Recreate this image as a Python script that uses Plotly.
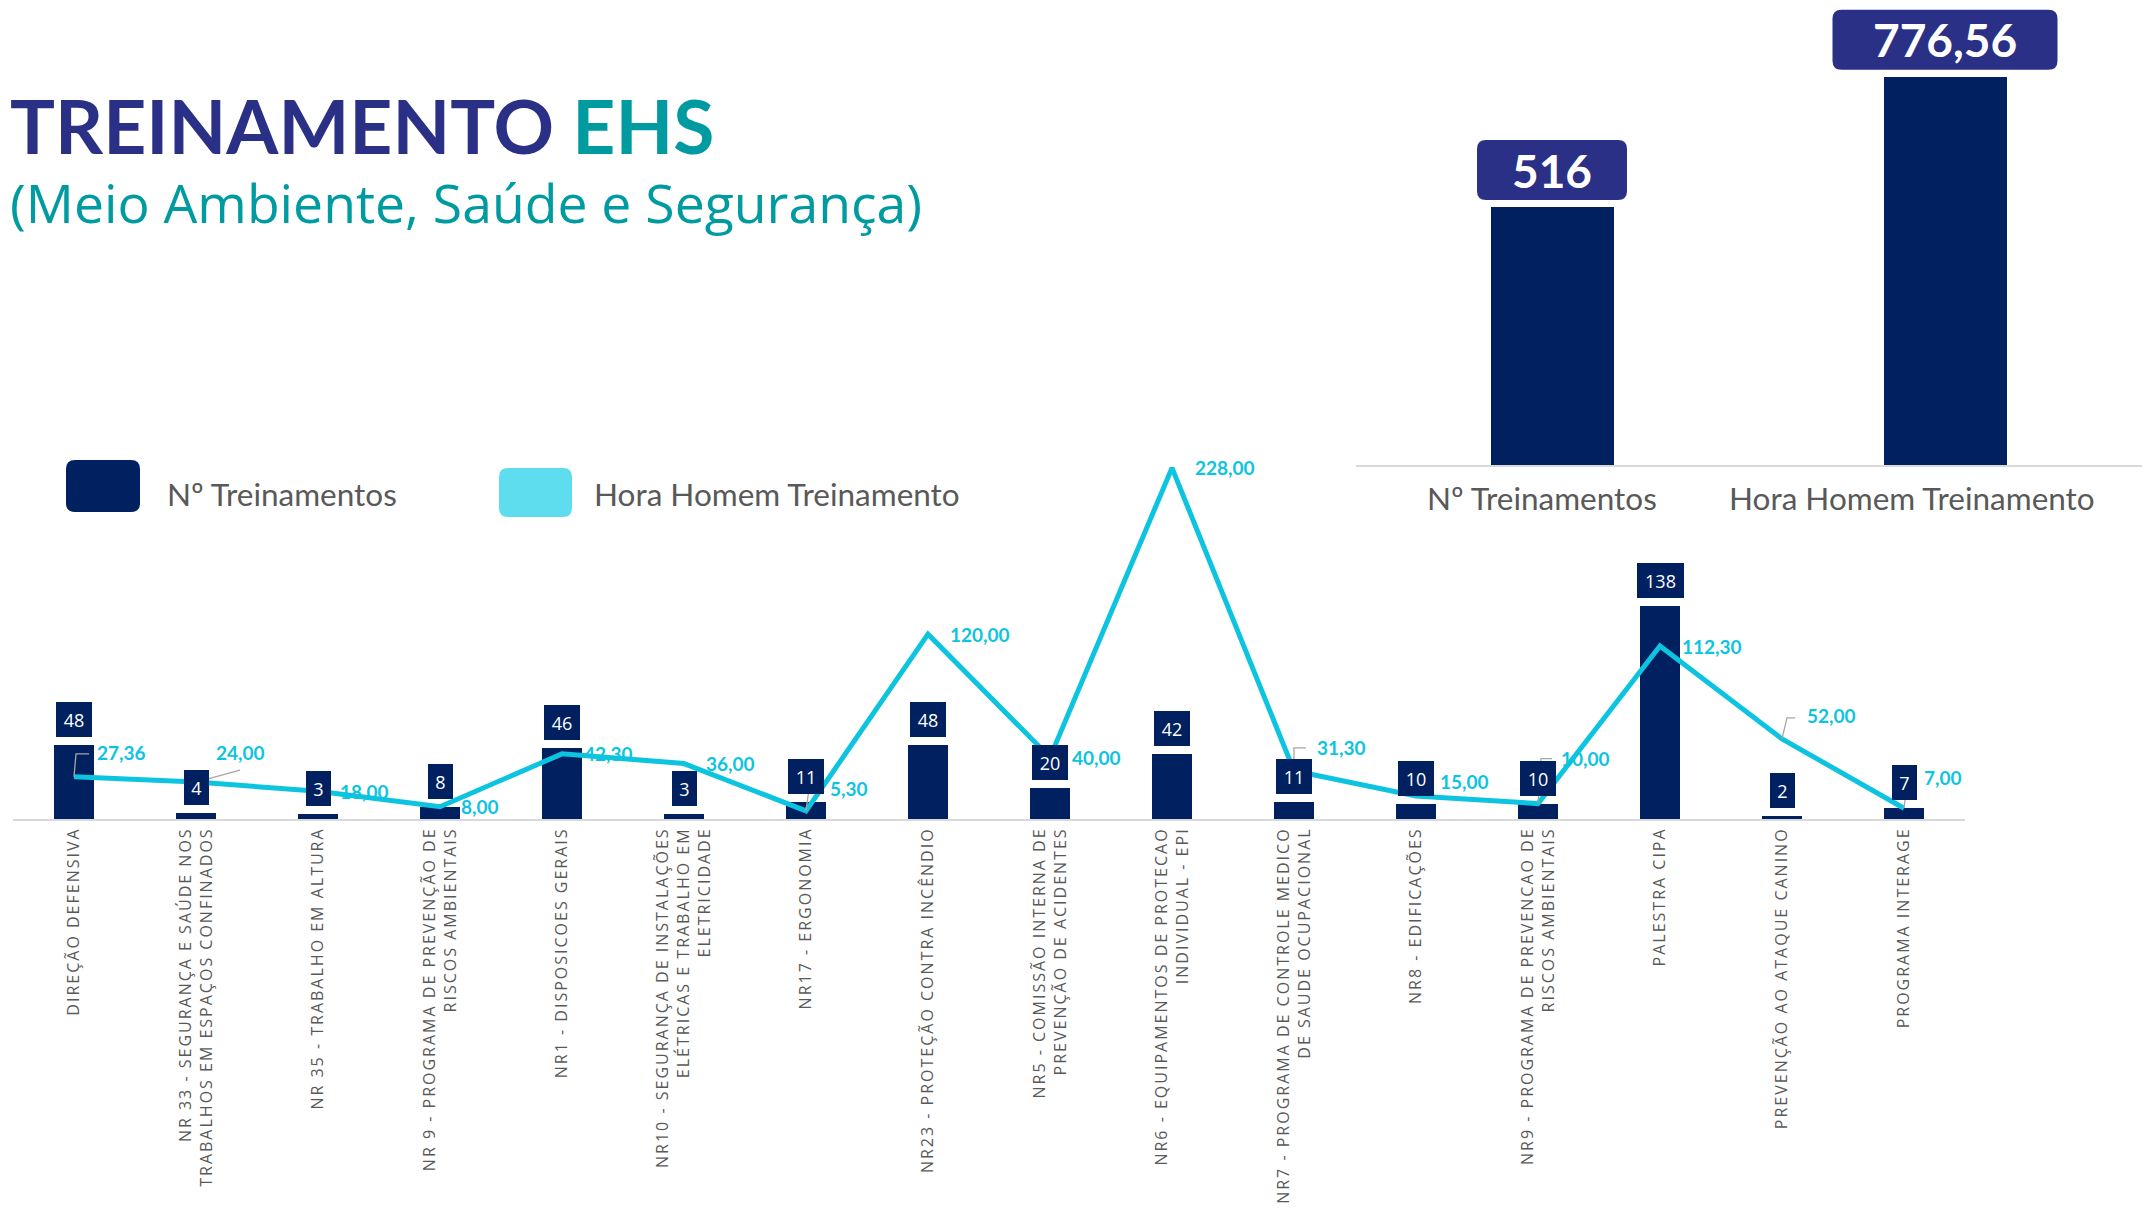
import plotly.graph_objects as go

W, H = 2144, 1215

categories = [
    "DIREÇÃO DEFENSIVA",
    "NR 33 - SEGURANÇA E SAÚDE NOS<br>TRABALHOS EM ESPAÇOS CONFINADOS",
    "NR 35 - TRABALHO EM ALTURA",
    "NR 9 - PROGRAMA DE PREVENÇÃO DE<br>RISCOS AMBIENTAIS",
    "NR1 - DISPOSICOES GERAIS",
    "NR10 - SEGURANÇA DE INSTALAÇÕES<br>ELÉTRICAS E TRABALHO EM<br>ELETRICIDADE",
    "NR17 - ERGONOMIA",
    "NR23 - PROTEÇÃO CONTRA INCÊNDIO",
    "NR5 - COMISSÃO INTERNA DE<br>PREVENÇÃO DE ACIDENTES",
    "NR6 - EQUIPAMENTOS DE PROTECAO<br>INDIVIDUAL - EPI",
    "NR7 - PROGRAMA DE CONTROLE MEDICO<br>DE SAUDE OCUPACIONAL",
    "NR8 - EDIFICAÇÕES",
    "NR9 - PROGRAMA DE PREVENCAO DE<br>RISCOS AMBIENTAIS",
    "PALESTRA CIPA",
    "PREVENÇÃO AO ATAQUE CANINO",
    "PROGRAMA INTERAGE",
]
n_treinamentos = [48, 4, 3, 8, 46, 3, 11, 48, 20, 42, 11, 10, 10, 138, 2, 7]
hora_homem = [27.36, 24.00, 18.00, 8.00, 42.30, 36.00, 5.30, 120.00,
              40.00, 228.00, 31.30, 15.00, 10.00, 112.30, 52.00, 7.00]

total_labels = ["Nº Treinamentos", "Hora Homem Treinamento"]
total_values = [516, 776.56]

NAVY = "#002060"
INDIGO = "#2B3087"
TEAL = "#009BA0"
CYAN = "#0DC4E0"
CYAN_LIGHT = "#5EDDEE"
GRAY = "#595959"
AXIS = "#D9D9D9"
LEADER = "#A6A6A6"


def fmt(v):
    if v % 1 == 0 and v > 300:
        return f"{v:.0f}"
    return f"{v:.2f}".replace(".", ",")


def spaced(label):
    # wide tracking on the category labels, line by line
    return "<br>".join(f"<span style='letter-spacing:2px'>{part}</span>"
                       for part in label.split("<br>"))


def rrect(x0, y0, x1, y1, r):
    return (f"M{x0 + r},{y0} L{x1 - r},{y0} Q{x1},{y0} {x1},{y0 + r} "
            f"L{x1},{y1 - r} Q{x1},{y1} {x1 - r},{y1} L{x0 + r},{y1} "
            f"Q{x0},{y1} {x0},{y1 - r} L{x0},{y0 + r} Q{x0},{y0} {x0 + r},{y0} Z")


def px(x):
    return x / W


def py(y):
    return 1 - y / H


idx = list(range(len(categories)))

fig = go.Figure()

# --- main chart: bars + line ---
fig.add_trace(go.Bar(x=idx, y=n_treinamentos, width=0.32, marker_color=NAVY,
                     marker_line_width=0, hoverinfo="skip", showlegend=False))
fig.add_trace(go.Scatter(x=idx, y=hora_homem, mode="lines",
                         line=dict(color=CYAN, width=5), hoverinfo="skip",
                         showlegend=False))

# --- totals chart ---
fig.add_trace(go.Bar(x=[0, 1], y=total_values, width=0.313, marker_color=NAVY,
                     marker_line_width=0, xaxis="x2", yaxis="y2",
                     hoverinfo="skip", showlegend=False))

annotations = []
shapes = []

# bar value boxes
for i, v in enumerate(n_treinamentos):
    s = str(v)
    annotations.append(dict(
        x=i, y=v, xref="x", yref="y", text=s, showarrow=False,
        yanchor="bottom", yshift=8, width=14 + 11 * len(s), height=35,
        bgcolor=NAVY, borderpad=0, borderwidth=0,
        font=dict(family="Open Sans", size=18, color="white"),
    ))

# line value labels: (dx, dy, leader path or None)
label_pos = [
    (23, 24, "M0,0 L2,23 L15,23"),
    (20, 30, "M0,0 L44,12"),
    (22, 0, None),
    (21, 0, None),
    (22, 0, None),
    (22, 0, None),
    (24, 22, "M0,0 L3,22 L16,22"),
    (22, 0, None),
    (22, 0, None),
    (23, 0, None),
    (23, 23, "M0,0 L0,23 L12,23"),
    (24, 14, "M0,0 L2,15 L12,15"),
    (23, 45, "M0,0 L3,45 L14,45"),
    (22, 0, None),
    (25, 23, "M0,0 L5,21 L13,21"),
    (20, 31, "M0,0 L4,30 L13,30"),
]
for i, v in enumerate(hora_homem):
    dx, dy, path = label_pos[i]
    annotations.append(dict(
        x=i, y=v, xref="x", yref="y", text=fmt(v), showarrow=False,
        xanchor="left", yanchor="middle", xshift=dx - 2, yshift=dy,
        font=dict(family="Lato", size=19, color=CYAN, weight="bold"),
    ))
    if path:
        shapes.append(dict(
            type="path", xref="x", yref="y", xsizemode="pixel",
            ysizemode="pixel", xanchor=i, yanchor=v, path=path,
            line=dict(color=LEADER, width=1.3),
        ))

# totals boxes and category names
box_gap, box_h = 7, 60
name_shift = [-10, -33]
for i, v in enumerate(total_values):
    s = fmt(v)
    w = 25 * len(s) + 75
    shapes.append(dict(
        type="path", xref="x2", yref="y2", xsizemode="pixel",
        ysizemode="pixel", xanchor=i, yanchor=v,
        path=rrect(-w / 2, box_gap, w / 2, box_gap + box_h, 9),
        fillcolor=INDIGO, line=dict(width=0),
    ))
    annotations.append(dict(
        x=i, y=v, xref="x2", yref="y2", text=s, showarrow=False,
        yanchor="middle", yshift=box_gap + box_h / 2,
        font=dict(family="Lato", size=46, color="white", weight="bold"),
    ))
    annotations.append(dict(
        x=i, y=0, xref="x2", yref="y2", text=total_labels[i],
        showarrow=False, yanchor="middle", yshift=-33,
        xshift=name_shift[i],
        font=dict(family="Lato", size=31.5, color=GRAY),
    ))

# legend
legend_items = [("Nº Treinamentos", NAVY, 66, 512, 74, 52, 165),
                ("Hora Homem Treinamento", CYAN_LIGHT, 499, 517, 73, 49, 592)]
for name, color, lx, ly, lw, lh, tx in legend_items:
    shapes.append(dict(
        type="path", xref="paper", yref="paper", xsizemode="pixel",
        ysizemode="pixel", xanchor=px(lx), yanchor=py(ly),
        path=rrect(0, 0, lw, lh, 9), fillcolor=color, line=dict(width=0),
    ))
    annotations.append(dict(
        x=px(tx), y=py(494), xref="paper", yref="paper", text=name,
        showarrow=False, xanchor="left", yanchor="middle",
        font=dict(family="Lato", size=31.5, color=GRAY),
    ))

# titles
annotations.append(dict(
    x=px(8), y=py(125), xref="paper", yref="paper",
    text=f"TREINAMENTO <span style='color:{TEAL}'>EHS</span>",
    showarrow=False, xanchor="left", yanchor="middle",
    font=dict(family="Lato", size=75, color=INDIGO, weight="bold"),
))
annotations.append(dict(
    x=px(8), y=py(202), xref="paper", yref="paper",
    text="(Meio Ambiente, Saúde e Segurança)",
    showarrow=False, xanchor="left", yanchor="middle",
    font=dict(family="Open Sans", size=53.5, color=TEAL),
))

fig.update_layout(
    width=W, height=H,
    margin=dict(l=0, r=0, t=0, b=0),
    paper_bgcolor="white", plot_bgcolor="white",
    bargap=0,
    xaxis=dict(
        domain=[13 / W, 1965 / W], range=[-0.5, 15.5],
        tickmode="array", tickvals=idx,
        ticktext=[spaced(c) for c in categories],
        tickangle=-90, showline=True, linecolor=AXIS, linewidth=2,
        showgrid=False, zeroline=False, ticks="", automargin=False,
        tickfont=dict(family="Open Sans", size=16, color=GRAY),
    ),
    yaxis=dict(
        domain=[py(819), py(434)], range=[0, 250], visible=False,
        fixedrange=True,
    ),
    xaxis2=dict(
        domain=[1355.5 / W, 2141.5 / W], range=[-0.5, 1.5],
        anchor="y2", showticklabels=False, showline=True, linecolor=AXIS,
        linewidth=2, showgrid=False, zeroline=False, ticks="",
        automargin=False,
    ),
    yaxis2=dict(
        domain=[py(465), 1.0], range=[0, 930], anchor="x2", visible=False,
    ),
    annotations=annotations,
    shapes=shapes,
)

fig.write_html("out.html", config={"displayModeBar": False},
               post_script="document.body.style.margin='0';")
